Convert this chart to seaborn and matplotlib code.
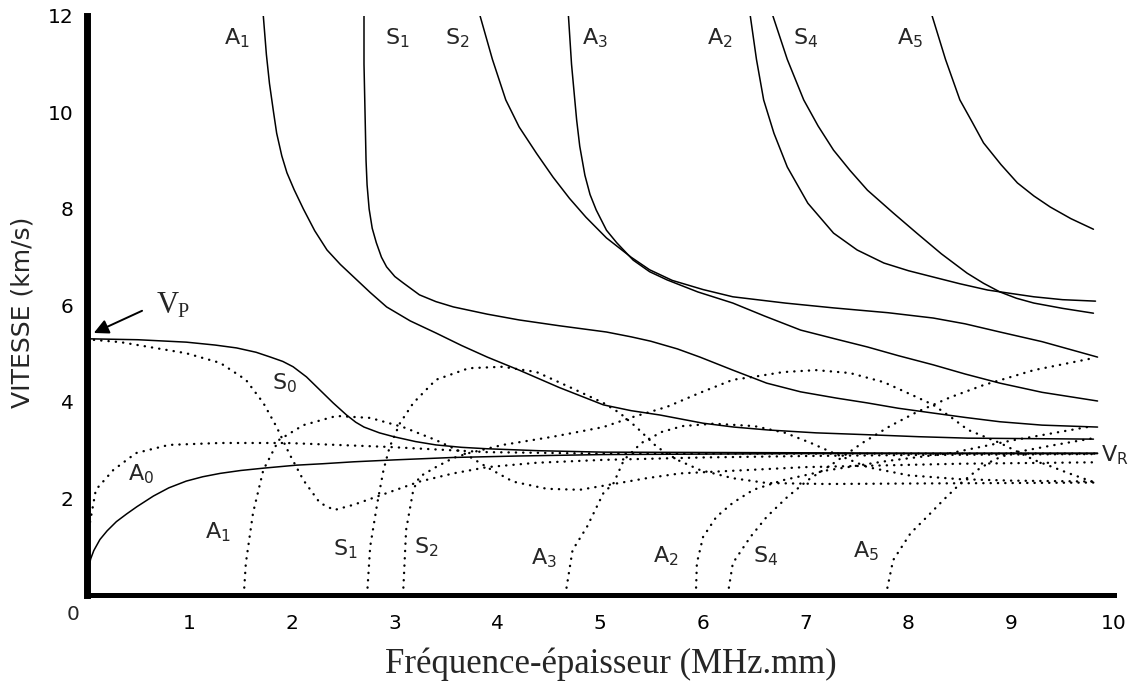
import numpy as np
import pandas as pd
import matplotlib
matplotlib.use("Agg")
import matplotlib.pyplot as plt
import seaborn as sns

# ---------------- data ----------------
# Phase velocity curves (solid lines): frequency-thickness (MHz.mm), velocity (km/s)
S0_phase_x = [0.0, 0.5, 0.97, 1.25, 1.46, 1.65, 1.79, 1.91, 2.01, 2.14, 2.27, 2.40, 2.53, 2.62, 2.70, 2.85, 2.99, 3.2, 3.40, 3.65, 3.90, 4.4, 5.03, 6.5, 8.0, 9.84]
S0_phase_y = [5.31, 5.29, 5.24, 5.18, 5.12, 5.03, 4.93, 4.84, 4.73, 4.52, 4.25, 3.98, 3.73, 3.58, 3.48, 3.36, 3.28, 3.18, 3.11, 3.06, 3.03, 2.99, 2.96, 2.95, 2.94, 2.94]

A0_phase_x = [0.0, 0.005, 0.01, 0.02, 0.04, 0.07, 0.13, 0.2, 0.29, 0.39, 0.49, 0.65, 0.8, 0.97, 1.13, 1.30, 1.5, 1.73, 2.04, 2.3, 2.60, 3.0, 3.57, 4.2, 5.03, 7.0, 9.84]
A0_phase_y = [0.0, 0.20, 0.35, 0.55, 0.75, 0.92, 1.15, 1.33, 1.52, 1.68, 1.83, 2.05, 2.22, 2.36, 2.45, 2.52, 2.58, 2.63, 2.69, 2.72, 2.76, 2.80, 2.85, 2.88, 2.91, 2.93, 2.93]

A1_phase_x = [1.72, 1.75, 1.78, 1.82, 1.85, 1.90, 1.95, 2.02, 2.11, 2.22, 2.34, 2.47, 2.60, 2.76, 2.92, 3.15, 3.40, 3.65, 3.90, 4.21, 4.60, 5.03, 5.3, 5.58, 6.0, 6.3, 6.63, 7.1, 7.62, 8.1, 8.58, 9.2, 9.80]
A1_phase_y = [12.0, 11.2, 10.6, 10.0, 9.57, 9.1, 8.75, 8.4, 8.0, 7.55, 7.15, 6.85, 6.59, 6.27, 5.97, 5.68, 5.43, 5.17, 4.93, 4.66, 4.30, 3.94, 3.82, 3.73, 3.56, 3.48, 3.42, 3.36, 3.32, 3.28, 3.25, 3.24, 3.23]

S1_phase_x = [2.70, 2.70, 2.71, 2.72, 2.73, 2.75, 2.78, 2.82, 2.87, 2.92, 3.0, 3.08, 3.24, 3.40, 3.57, 3.9, 4.21, 4.6, 5.06, 5.3, 5.49, 5.75, 5.97, 6.29, 6.62, 6.95, 7.3, 7.60, 7.9, 8.24, 8.55, 8.89, 9.3, 9.84]
S1_phase_y = [12.0, 11.0, 10.0, 9.0, 8.5, 8.0, 7.6, 7.3, 7.0, 6.8, 6.6, 6.47, 6.22, 6.08, 5.97, 5.82, 5.70, 5.58, 5.45, 5.35, 5.26, 5.10, 4.93, 4.66, 4.39, 4.21, 4.08, 3.98, 3.87, 3.77, 3.68, 3.59, 3.52, 3.48]

S2_phase_x = [3.83, 3.95, 4.08, 4.21, 4.38, 4.54, 4.70, 4.86, 5.06, 5.15, 5.30, 5.48, 5.7, 6.0, 6.29, 6.8, 7.27, 7.8, 8.24, 8.55, 8.89, 9.3, 9.84]
S2_phase_y = [12.0, 11.1, 10.26, 9.70, 9.15, 8.66, 8.22, 7.83, 7.40, 7.25, 7.0, 6.74, 6.52, 6.33, 6.18, 6.05, 5.95, 5.85, 5.74, 5.62, 5.45, 5.25, 4.93]

A3_phase_x = [4.69, 4.72, 4.75, 4.77, 4.80, 4.85, 4.90, 4.96, 5.06, 5.16, 5.32, 5.48, 5.65, 5.95, 6.29, 6.6, 6.95, 7.3, 7.60, 7.9, 8.24, 8.55, 8.89, 9.3, 9.84]
A3_phase_y = [12.0, 11.0, 10.3, 9.84, 9.30, 8.70, 8.30, 7.98, 7.56, 7.30, 6.94, 6.70, 6.53, 6.28, 6.05, 5.78, 5.49, 5.30, 5.14, 4.96, 4.77, 4.58, 4.39, 4.20, 4.02]

A2_phase_x = [6.46, 6.52, 6.59, 6.69, 6.82, 7.02, 7.27, 7.5, 7.76, 8.0, 8.24, 8.5, 8.77, 9.22, 9.5, 9.82]
A2_phase_y = [12.0, 11.1, 10.26, 9.57, 8.87, 8.12, 7.50, 7.15, 6.88, 6.72, 6.59, 6.45, 6.32, 6.18, 6.12, 6.09]

S4_phase_x = [6.68, 6.82, 6.98, 7.12, 7.27, 7.43, 7.60, 7.85, 8.08, 8.32, 8.57, 8.73, 8.89, 9.05, 9.22, 9.5, 9.80]
S4_phase_y = [12.0, 11.1, 10.26, 9.72, 9.22, 8.80, 8.39, 7.92, 7.50, 7.07, 6.67, 6.46, 6.28, 6.15, 6.05, 5.94, 5.84]

A5_phase_x = [8.23, 8.36, 8.50, 8.62, 8.73, 8.9, 9.06, 9.22, 9.38, 9.58, 9.80]
A5_phase_y = [12.0, 11.1, 10.26, 9.80, 9.37, 8.92, 8.54, 8.27, 8.04, 7.80, 7.58]

# Group velocity curves (dotted lines)
S0_group_x = [0.0, 0.33, 0.97, 1.30, 1.55, 1.72, 1.85, 1.97, 2.11, 2.27, 2.41, 2.60, 2.92, 3.24, 3.57, 3.90, 4.38, 5.03, 6.0, 7.0, 8.0, 9.84]
S0_group_y = [5.30, 5.24, 5.01, 4.81, 4.46, 3.98, 3.48, 2.94, 2.38, 1.91, 1.76, 1.87, 2.11, 2.35, 2.52, 2.65, 2.74, 2.80, 2.85, 2.88, 2.90, 2.92]

A0_group_x = [0.0, 0.01, 0.02, 0.09, 0.26, 0.48, 0.80, 1.30, 1.95, 2.92, 3.90, 5.0, 9.84]
A0_group_y = [0.0, 0.60, 1.35, 2.18, 2.59, 2.94, 3.11, 3.15, 3.15, 3.07, 2.96, 2.93, 2.93]

A1_group_x = [1.53, 1.55, 1.62, 1.72, 1.87, 2.11, 2.43, 2.76, 3.08, 3.40, 3.67, 3.92, 4.15, 4.48, 4.80, 5.13, 5.45, 5.78, 7.0, 8.5, 9.84]
A1_group_y = [0.0, 0.66, 1.70, 2.59, 3.21, 3.52, 3.71, 3.67, 3.48, 3.21, 2.94, 2.62, 2.35, 2.20, 2.18, 2.30, 2.42, 2.52, 2.65, 2.72, 2.75]

S1_group_x = [2.73, 2.76, 2.83, 2.89, 2.95, 3.05, 3.18, 3.40, 3.72, 4.05, 4.38, 4.70, 5.03, 5.19, 5.35, 5.55, 5.75, 5.97, 6.29, 6.62, 7.2, 8.0, 9.0, 9.84]
S1_group_y = [0.0, 1.00, 1.91, 2.59, 3.07, 3.56, 3.98, 4.46, 4.70, 4.73, 4.62, 4.31, 3.98, 3.77, 3.48, 3.07, 2.80, 2.59, 2.42, 2.32, 2.30, 2.31, 2.32, 2.33]

S2_group_x = [3.08, 3.11, 3.18, 3.24, 3.40, 3.57, 3.72, 4.05, 4.54, 5.03, 5.32, 5.65, 5.97, 6.29, 6.49, 6.78, 7.10, 7.43, 7.76, 8.08, 8.24, 8.41, 8.58, 8.89, 9.22, 9.55, 9.80]
S2_group_y = [0.0, 1.35, 2.18, 2.45, 2.65, 2.84, 2.94, 3.11, 3.28, 3.48, 3.69, 3.90, 4.19, 4.46, 4.52, 4.62, 4.66, 4.60, 4.41, 4.10, 3.94, 3.69, 3.42, 3.15, 2.80, 2.53, 2.34]

A3_group_x = [4.66, 4.73, 4.87, 5.03, 5.13, 5.23, 5.40, 5.60, 5.80, 6.10, 6.50, 6.80, 7.05, 7.27, 7.60, 8.00, 8.50, 9.00, 9.84]
A3_group_y = [0.0, 0.93, 1.41, 2.11, 2.32, 2.80, 3.15, 3.38, 3.50, 3.55, 3.50, 3.36, 3.15, 2.94, 2.65, 2.48, 2.40, 2.37, 2.35]

A2_group_x = [5.93, 5.94, 6.00, 6.13, 6.29, 6.49, 6.78, 7.20, 7.80, 8.41, 9.00, 9.74]
A2_group_y = [0.0, 0.66, 1.20, 1.62, 1.91, 2.18, 2.38, 2.58, 2.78, 2.94, 3.20, 3.48]

S4_group_x = [6.24, 6.29, 6.46, 6.62, 6.82, 7.02, 7.27, 7.55, 7.82, 8.08, 8.41, 8.73, 9.22, 9.80]
S4_group_y = [0.0, 0.66, 1.20, 1.62, 2.03, 2.38, 2.73, 3.15, 3.50, 3.79, 4.10, 4.35, 4.66, 4.91]

A5_group_x = [7.78, 7.85, 8.02, 8.18, 8.34, 8.51, 8.67, 8.83, 9.00, 9.40, 9.80]
A5_group_y = [0.0, 0.72, 1.28, 1.62, 1.97, 2.32, 2.59, 2.80, 2.94, 3.10, 3.25]

phase_curves = {
    "S0": (S0_phase_x, S0_phase_y), "A0": (A0_phase_x, A0_phase_y),
    "A1": (A1_phase_x, A1_phase_y), "S1": (S1_phase_x, S1_phase_y),
    "S2": (S2_phase_x, S2_phase_y), "A3": (A3_phase_x, A3_phase_y),
    "A2": (A2_phase_x, A2_phase_y), "S4": (S4_phase_x, S4_phase_y),
    "A5": (A5_phase_x, A5_phase_y),
}
group_curves = {
    "S0": (S0_group_x, S0_group_y), "A0": (A0_group_x, A0_group_y),
    "A1": (A1_group_x, A1_group_y), "S1": (S1_group_x, S1_group_y),
    "S2": (S2_group_x, S2_group_y), "A3": (A3_group_x, A3_group_y),
    "A2": (A2_group_x, A2_group_y), "S4": (S4_group_x, S4_group_y),
    "A5": (A5_group_x, A5_group_y),
}

# mode labels: letter, subscript, x, y (data units, left edge / vertical centre)
top_labels = [("A", "1", 1.34, 11.53), ("S", "1", 2.90, 11.53), ("S", "2", 3.49, 11.53),
              ("A", "3", 4.82, 11.53), ("A", "2", 6.04, 11.53), ("S", "4", 6.88, 11.53),
              ("A", "5", 7.89, 11.53)]
bottom_labels = [("A", "0", 0.40, 2.50), ("S", "0", 1.80, 4.38), ("A", "1", 1.15, 1.30),
                 ("S", "1", 2.40, 0.95), ("S", "2", 3.19, 1.00), ("A", "3", 4.33, 0.77),
                 ("A", "2", 5.51, 0.80), ("S", "4", 6.49, 0.80), ("A", "5", 7.46, 0.90)]

x_ticks = [1, 2, 3, 4, 5, 6, 7, 8, 9, 10]
y_ticks = [2, 4, 6, 8, 10, 12]

# ---------------- figure ----------------
sns.set_style("white")
plt.rcParams["font.family"] = ["DejaVu Sans"]

fig = plt.figure(figsize=(11.32, 6.86), dpi=100)
ax = fig.add_axes([0.0765, 0.1327, 0.9076, 0.844])

for name, (xs, ys) in phase_curves.items():
    sns.lineplot(x=xs, y=ys, ax=ax, color="black", lw=1.1, sort=False,
                 estimator=None)

for name, (xs, ys) in group_curves.items():
    sns.lineplot(x=xs, y=ys, ax=ax, color="black", lw=1.7, sort=False,
                 estimator=None, linestyle=(0, (0.1, 3.0)),
                 dash_capstyle="round")

ax.set_xlim(0, 10)
ax.set_ylim(0, 12)
ax.set_xticks(x_ticks)
ax.set_yticks(y_ticks)
ax.set_xticklabels([str(t) for t in x_ticks])
ax.set_yticklabels([str(t) for t in y_ticks])
ax.tick_params(axis="both", direction="inout", length=11, width=1.2,
               labelsize=14.5, colors="black")
ax.tick_params(axis="x", pad=8)
ax.tick_params(axis="y", pad=4)
for s in ["top", "right"]:
    ax.spines[s].set_visible(False)
ax.spines["left"].set_linewidth(5)
ax.spines["bottom"].set_linewidth(3.6)
ax.spines["left"].set_color("black")
ax.spines["bottom"].set_color("black")
ax.set_xlabel("")
ax.set_ylabel("")
ax.grid(False)

# origin label
ax.text(-0.13, -0.41, "0", fontsize=14.5, ha="center", va="center", clip_on=False)

# mode labels
for letter, sub, x, y in top_labels + bottom_labels:
    ax.text(x, y, letter + r"$_{" + sub + r"}$", fontsize=16, ha="left",
            va="center", math_fontfamily="dejavusans")

# V_P with arrow
ax.annotate("", xy=(0.07, 5.43), xytext=(0.54, 5.89),
            arrowprops=dict(arrowstyle="-|>", color="black", lw=1.4,
                            mutation_scale=22, shrinkA=0, shrinkB=0))
ax.text(0.685, 5.84, "V", fontsize=22, family="Liberation Serif",
        ha="left", va="baseline")
ax.text(0.885, 5.76, "P", fontsize=14.5, family="Liberation Serif",
        ha="left", va="baseline")

# V_R at right
ax.text(9.87, 2.90, r"V$_{\mathrm{R}}$", fontsize=16, ha="left", va="center",
        clip_on=False, math_fontfamily="dejavusans")

# axis titles
fig.text(22.5 / 1132, 1 - 312 / 686, "VITESSE (km/s)", rotation=90,
         fontsize=18, ha="center", va="center")
fig.text(611 / 1132, 1 - 673 / 686, "Fréquence-épaisseur (MHz.mm)",
         fontsize=25, family="Liberation Serif", ha="center", va="baseline")

fig.savefig("out.png", dpi=100, facecolor="white")
